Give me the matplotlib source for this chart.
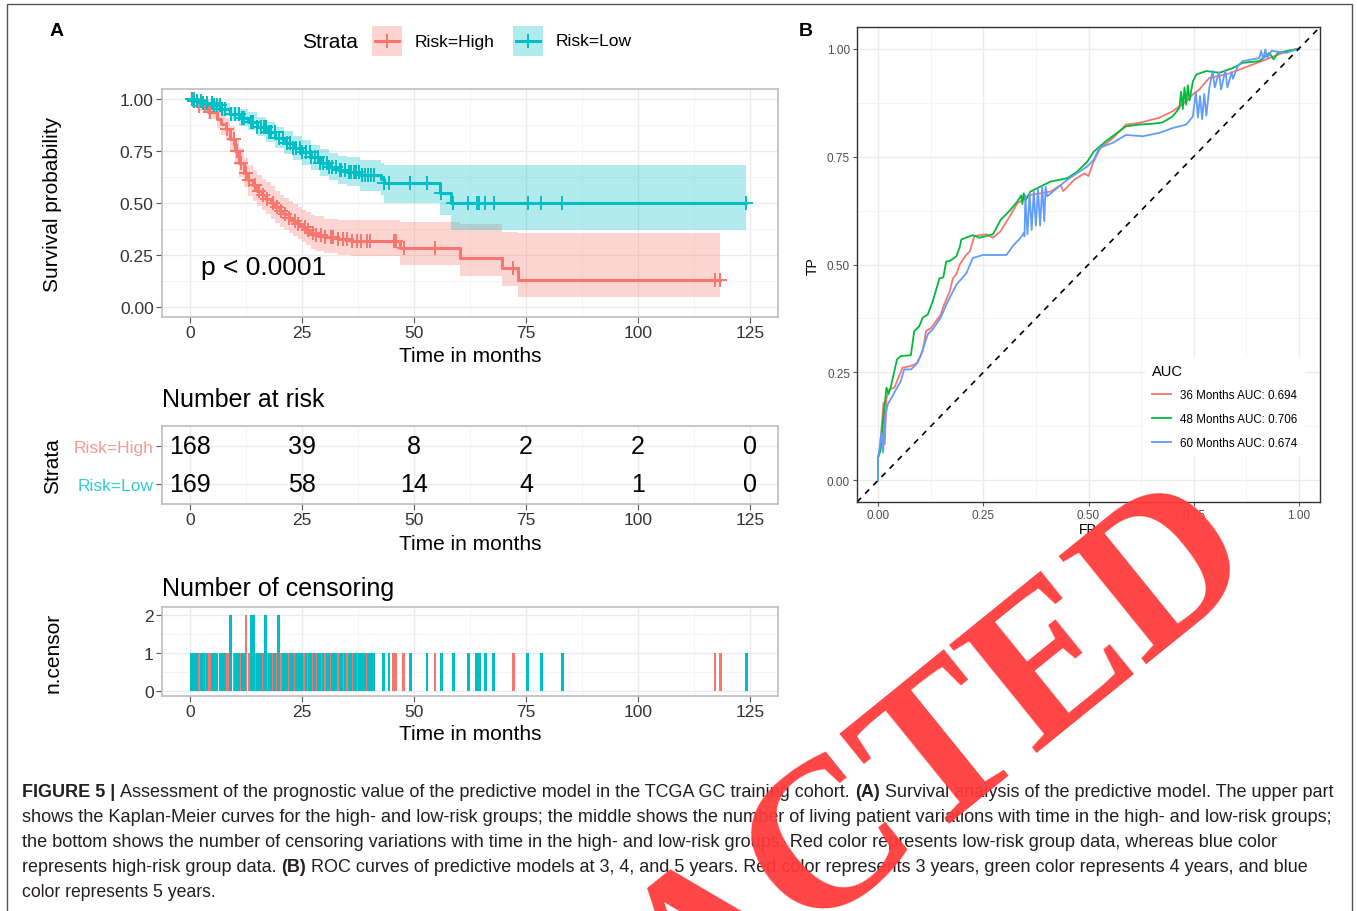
import numpy as np
import matplotlib
matplotlib.use('Agg')
import matplotlib.pyplot as plt
from matplotlib.patches import Rectangle
from matplotlib.lines import Line2D

plt.rcParams['font.family'] = ['Liberation Sans', 'DejaVu Sans']

RED = '#F8766D'
CYAN = '#00BFC4'

# ---- Kaplan-Meier: Risk=High ----
high_t = [0, 2, 4, 6, 7, 8, 9, 10, 11, 12, 13, 14, 15, 16, 17, 18, 19, 20, 21, 22,
          23, 24, 25, 26, 27, 28, 30, 33, 36, 46.8, 60.2, 69.7, 73.2]
high_s = [1, .97, .94, .905, .88, .855, .81, .75, .695, .645, .61, .585, .56, .54, .52,
          .50, .48, .46, .445, .43, .415, .40, .385, .37, .355, .345, .335, .325, .315,
          .281, .233, .188, .128]
high_lo = [1, .945, .905, .86, .83, .80, .75, .685, .625, .575, .535, .51, .485, .465, .445,
           .425, .405, .385, .37, .355, .34, .325, .31, .295, .28, .27, .26, .25, .245,
           .20, .15, .10, .048]
high_hi = [1, .995, .975, .95, .93, .91, .87, .815, .765, .715, .685, .66, .635, .615, .60,
           .58, .56, .54, .525, .51, .495, .48, .465, .455, .44, .435, .425, .42, .42,
           .41, .398, .36, .353]

# ---- Kaplan-Meier: Risk=Low ----
low_t = [0, 1, 3, 5, 7, 9, 11, 13, 15, 17, 19, 21, 23, 25, 27, 29, 31, 33, 35, 38,
         42.7, 43.2, 55.9, 58.2]
low_s = [1, .994, .982, .971, .952, .93, .912, .893, .868, .843, .815, .79, .765, .745,
         .72, .695, .675, .66, .65, .634, .618, .597, .546, .502]
low_lo = [1, .982, .962, .946, .922, .895, .872, .85, .822, .795, .765, .735, .708, .685,
          .66, .632, .61, .593, .58, .56, .54, .50, .44, .369]
low_hi = [1, 1, 1, .995, .983, .965, .952, .937, .915, .893, .868, .845, .822, .805,
          .782, .76, .742, .728, .72, .706, .695, .682, .684, .685]

# censoring times (months)
cens_high = [0.8, 2.0, 3.3, 4.4, 8.3, 9.8, 10.5, 11.3, 12.5, 12.5, 13.2, 14.6, 15.4, 16.3,
             17.1, 18.5, 19.4, 20.4, 21.2, 22.0, 23.4, 24.0, 25.6, 26.3, 27.4, 28.2, 29.3,
             30.2, 31.4, 32.0, 33.1, 34.2, 35.0, 36.2, 37.3, 38.2, 39.4, 40.2, 45.5, 46.0,
             47.7, 54.7, 72.2, 117.2, 118.4]
cens_low = [0.4, 1.0, 1.5, 2.5, 3.0, 3.8, 4.9, 5.4, 6.0, 6.7, 7.2, 7.8, 9.1, 9.1, 10.1,
            10.9, 11.7, 12.1, 13.6, 13.6, 14.1, 14.1, 15.0, 15.8, 16.6, 16.9, 16.9, 17.6,
            18.0, 18.9, 19.8, 19.8, 20.8, 21.6, 22.4, 23.0, 23.7, 24.5, 25.0, 25.9, 26.7,
            27.0, 27.8, 28.6, 29.0, 29.7, 30.6, 31.0, 31.8, 32.5, 33.5, 33.8, 34.6, 35.5,
            35.9, 36.6, 37.0, 37.8, 38.5, 39.0, 39.8, 40.5, 41.0, 43.2, 44.4, 49.2, 52.9,
            56.1, 58.8, 62.1, 64.0, 64.6, 65.9, 67.8, 75.4, 78.4, 83.1, 124.2]

# number at risk table
risk_times = [0, 25, 50, 75, 100, 125]
risk_high = [168, 39, 8, 2, 2, 0]
risk_low = [169, 58, 14, 4, 1, 0]
time_ticks = [0, 25, 50, 75, 100, 125]

# ---- ROC curves ----
roc36_fp = [0, 0, .004, .013, .016, .02, .027, .039, .058, .078, .094, .106, .11, .114,
            .126, .149, .154, .17, .178, .186, .194, .21, .218, .229, .257, .273, .291,
            .315, .331, .362, .41, .434, .44, .466, .49, .5, .512, .528, .558, .589, .621,
            .669, .7, .732, .748, .763, .787, .827, .858, .89, .93, .961, 1]
roc36_tp = [0, .053, .068, .18, .084, .19, .211, .215, .261, .265, .272, .30, .322, .346,
            .353, .384, .40, .437, .468, .477, .50, .523, .53, .566, .57, .562, .577,
            .615, .642, .661, .669, .684, .67, .696, .711, .705, .738, .769, .793, .824,
            .828, .84, .855, .878, .894, .905, .932, .94, .951, .963, .978, .99, 1]

roc48_fp = [0, 0, .006, .013, .02, .025, .03, .045, .054, .078, .086, .098, .106, .118,
            .13, .146, .155, .162, .17, .186, .194, .198, .225, .241, .273, .291, .315,
            .331, .34, .343, .346, .35, .362, .41, .45, .473, .497, .512, .542, .574,
            .589, .621, .653, .676, .70, .716, .72, .724, .728, .732, .736, .74, .748,
            .756, .78, .811, .843, .866, .906, .93, .94, .95, .969, 1]
roc48_tp = [0, .053, .07, .15, .215, .20, .215, .28, .288, .29, .346, .357, .377, .384,
            .415, .468, .47, .507, .508, .519, .54, .558, .568, .562, .57, .603, .627,
            .646, .66, .64, .665, .648, .669, .692, .70, .715, .738, .761, .786, .809,
            .82, .824, .826, .829, .843, .863, .90, .86, .91, .87, .915, .88, .924, .94,
            .948, .944, .955, .967, .971, .99, .975, .99, .994, 1]

roc60_fp = [0, 0, .003, .008, .012, .016, .023, .054, .062, .078, .09, .102, .11, .118,
            .13, .149, .162, .186, .21, .225, .249, .305, .323, .338, .346, .348, .35,
            .355, .36, .365, .37, .375, .38, .385, .39, .395, .398, .402, .449, .497,
            .512, .526, .558, .589, .629, .669, .70, .732, .748, .755, .76, .765, .77,
            .775, .78, .787, .795, .80, .81, .815, .825, .83, .84, .843, .855, .866,
            .906, .91, .915, .92, .925, .935, .969, 1]
roc60_tp = [0, .053, .07, .11, .065, .14, .176, .23, .257, .257, .268, .291, .314, .338,
            .35, .377, .407, .453, .48, .515, .522, .522, .546, .561, .573, .565, .66,
            .57, .665, .58, .67, .59, .675, .59, .68, .60, .68, .658, .696, .727, .742,
            .77, .782, .80, .797, .805, .816, .824, .843, .90, .84, .89, .836, .895, .845,
            .909, .948, .91, .945, .905, .95, .91, .945, .93, .96, .971, .978, .995,
            .975, .998, .978, .995, .99, 1]

roc_labels = ['36 Months AUC: 0.694', '48 Months AUC: 0.706', '60 Months AUC: 0.674']
roc_colors = ['#F8766D', '#00BA38', '#619CFF']

caption = [
    [('FIGURE 5 |', True),
     ('Assessment of the prognostic value of the predictive model in the TCGA GC training cohort.', False),
     ('(A)', True),
     ('Survival analysis of the predictive model. The upper part', False)],
    [('shows the Kaplan-Meier curves for the high- and low-risk groups; the middle shows the number '
      'of living patient variations with time in the high- and low-risk groups;', False)],
    [('the bottom shows the number of censoring variations with time in the high- and low-risk '
      'groups. Red color represents low-risk group data, whereas blue color', False)],
    [('represents high-risk group data.', False), ('(B)', True),
     ('ROC curves of predictive models at 3, 4, and 5 years. Red color represents 3 years, '
      'green color represents 4 years, and blue', False)],
    [('color represents 5 years.', False)],
]
caption_right = [1335, 1335, 1283, 1309, 216]

W, H = 1357, 912
fig = plt.figure(figsize=(W / 100, H / 100), dpi=100)


def box(l, t, r, b):
    return [l / W, 1 - b / H, (r - l) / W, (b - t) / H]


def gg_panel(ax, border='#BEBEBE', bw=1.2):
    for sp in ax.spines.values():
        sp.set_color(border)
        sp.set_linewidth(bw)
    ax.grid(True, which='major', color='#EBEBEB', lw=1.0)
    ax.grid(True, which='minor', color='#F3F3F3', lw=0.6)
    ax.set_axisbelow(True)
    ax.tick_params(which='major', length=4, width=0.8, color='#555555',
                   labelcolor='#333333', labelsize=12.5, pad=2)
    ax.tick_params(which='minor', length=0)


def time_axis(ax):
    ax.set_xlim(-6.25, 131.25)
    ax.set_xticks(time_ticks)
    ax.set_xticks([12.5, 37.5, 62.5, 87.5, 112.5], minor=True)


def km_curve(ax, t, s, lo, hi, cens, color):
    t, s = np.array(t), np.array(s)
    t_end = max(cens)
    tt = np.append(t, t_end)
    ax.fill_between(tt, np.append(lo, lo[-1]), np.append(hi, hi[-1]), step='post',
                    color=color, alpha=0.3, lw=0)
    ax.step(tt, np.append(s, s[-1]), where='post', color=color, lw=2.2)
    idx = np.searchsorted(t, cens, side='right') - 1
    ax.plot(cens, s[idx], '+', color=color, ms=10, mew=1.4)


# ---------------- KM plot ----------------
ax = fig.add_axes(box(162, 90, 778, 318))
gg_panel(ax)
time_axis(ax)
ax.set_ylim(-0.05, 1.05)
ax.set_yticks([0, .25, .5, .75, 1])
ax.set_yticks([.125, .375, .625, .875], minor=True)
ax.set_yticklabels(['0.00', '0.25', '0.50', '0.75', '1.00'])
km_curve(ax, high_t, high_s, high_lo, high_hi, cens_high, RED)
km_curve(ax, low_t, low_s, low_lo, low_hi, cens_low, CYAN)
ax.text(2.5, 0.19, 'p < 0.0001', fontsize=19, ha='left', va='center')

# ---------------- risk table ----------------
ax = fig.add_axes(box(162, 427, 778, 505))
gg_panel(ax)
time_axis(ax)
ax.set_ylim(0.47, 2.53)
ax.set_yticks([2, 1])
ax.set_yticklabels(['Risk=High', 'Risk=Low'])
for lab, c in zip(ax.get_yticklabels(), ['#F99A92', '#33CCD0']):
    lab.set_color(c)
for i, tt in enumerate(risk_times):
    ax.text(tt, 2, str(risk_high[i]), ha='center', va='center', fontsize=18)
    ax.text(tt, 1, str(risk_low[i]), ha='center', va='center', fontsize=18)

# ---------------- censoring ----------------
ax = fig.add_axes(box(162, 608, 778, 697))
gg_panel(ax)
time_axis(ax)
ax.set_ylim(-0.12, 2.22)
ax.set_yticks([0, 1, 2])
ax.set_yticks([0.5, 1.5], minor=True)
for cens, c in [(cens_high, RED), (cens_low, CYAN)]:
    v, n = np.unique(cens, return_counts=True)
    ax.bar(v, n, width=0.6, color=c, lw=0)

# ---------------- ROC ----------------
ax = fig.add_axes(box(857, 28, 1320, 503))
gg_panel(ax, border='#333333', bw=1.0)
ax.tick_params(which='major', labelsize=8.5, length=3, pad=2, labelcolor='#4D4D4D')
ax.set_xlim(-0.05, 1.05)
ax.set_ylim(-0.05, 1.05)
tk = [0, .25, .5, .75, 1]
ax.set_xticks(tk)
ax.set_yticks(tk)
ax.set_xticklabels(['%.2f' % v for v in tk])
ax.set_yticklabels(['%.2f' % v for v in tk])
ax.set_xticks([.125, .375, .625, .875], minor=True)
ax.set_yticks([.125, .375, .625, .875], minor=True)
for fp, tp, lab, c in [(roc36_fp, roc36_tp, roc_labels[0], roc_colors[0]),
                       (roc48_fp, roc48_tp, roc_labels[1], roc_colors[1]),
                       (roc60_fp, roc60_tp, roc_labels[2], roc_colors[2])]:
    ax.plot(fp, tp, color=c, lw=1.3, label=lab)
ax.axline((0, 0), (1, 1), color='black', ls=(0, (3.5, 3.5)), lw=1.2)
leg = ax.legend(title='AUC', loc='upper left', bbox_to_anchor=(0.61, 0.318),
                fontsize=8.4, title_fontsize=10.5, frameon=True, facecolor='white',
                edgecolor='none', framealpha=1, handlelength=1.6, labelspacing=1.0,
                alignment='left', borderpad=0.6)

# ---------------- overlay: labels, legend, caption ----------------
ov = fig.add_axes([0, 0, 1, 1])
ov.set_xlim(0, W)
ov.set_ylim(H, 0)
ov.axis('off')

ov.add_patch(Rectangle((7, 5), 1345, 920, fill=False, ec='#555555', lw=1.0))
ov.text(57, 31, 'A', fontsize=14, fontweight='bold', ha='center', va='center')
ov.text(806, 31, 'B', fontsize=14, fontweight='bold', ha='center', va='center')

lab_kw = dict(fontsize=15, ha='center', va='center')
ov.text(53, 204, 'Survival probability', rotation=90, **lab_kw)
ov.text(53, 466, 'Strata', rotation=90, **lab_kw)
ov.text(53, 653, 'n.censor', rotation=90, **lab_kw)
for y in [357, 545, 735]:
    ov.text(470, y, 'Time in months', **lab_kw)
ov.text(162, 400, 'Number at risk', fontsize=18, ha='left', va='center')
ov.text(162, 589, 'Number of censoring', fontsize=18, ha='left', va='center')
ov.text(813, 266, 'TP', rotation=90, fontsize=10, ha='center', va='center')
ov.text(1088, 530, 'FP', fontsize=10, ha='center', va='center')

# strata legend
ov.text(302, 42, 'Strata', fontsize=15, ha='left', va='center')
for x0, c, lab in [(372, RED, 'Risk=High'), (513, CYAN, 'Risk=Low')]:
    ov.add_patch(Rectangle((x0, 27), 30, 30, color=c, alpha=0.3, lw=0))
    ov.add_line(Line2D([x0 + 3, x0 + 27], [42, 42], color=c, lw=2.2))
    ov.plot([x0 + 15], [42], '+', color=c, ms=10, mew=1.4)
    ov.text(x0 + 43, 42, lab, fontsize=12.5, ha='left', va='center')

# caption
fig.canvas.draw()
rend = fig.canvas.get_renderer()
CAP = dict(family='Liberation Sans', color='#231F20')


def seg_width(s, bold, size):
    t = ov.text(0, 0, s, fontsize=size, fontweight='bold' if bold else 'normal', **CAP)
    w = t.get_window_extent(rend).width
    t.remove()
    return w


for i, segs in enumerate(caption):
    y = 797 + 25 * i
    base = 12.0
    sp = seg_width('x x', False, base) - seg_width('xx', False, base)
    tot = sum(seg_width(s, b, base) for s, b in segs) + sp * (len(segs) - 1)
    size = base * (caption_right[i] - 22) / tot
    sp = seg_width('x x', False, size) - seg_width('xx', False, size)
    x = 22
    for s, b in segs:
        ov.text(x, y, s, fontsize=size, fontweight='bold' if b else 'normal',
                ha='left', va='baseline', **CAP)
        x += seg_width(s, b, size) + sp

# redaction stamp over the figure
ov.text(1262, 568, 'REDACTED', rotation=39, rotation_mode='anchor', ha='right',
        va='baseline', fontsize=152, family='Liberation Serif', fontweight='bold',
        color='#FF3B3B', alpha=0.95, zorder=20)

fig.savefig('out.png', dpi=100)
